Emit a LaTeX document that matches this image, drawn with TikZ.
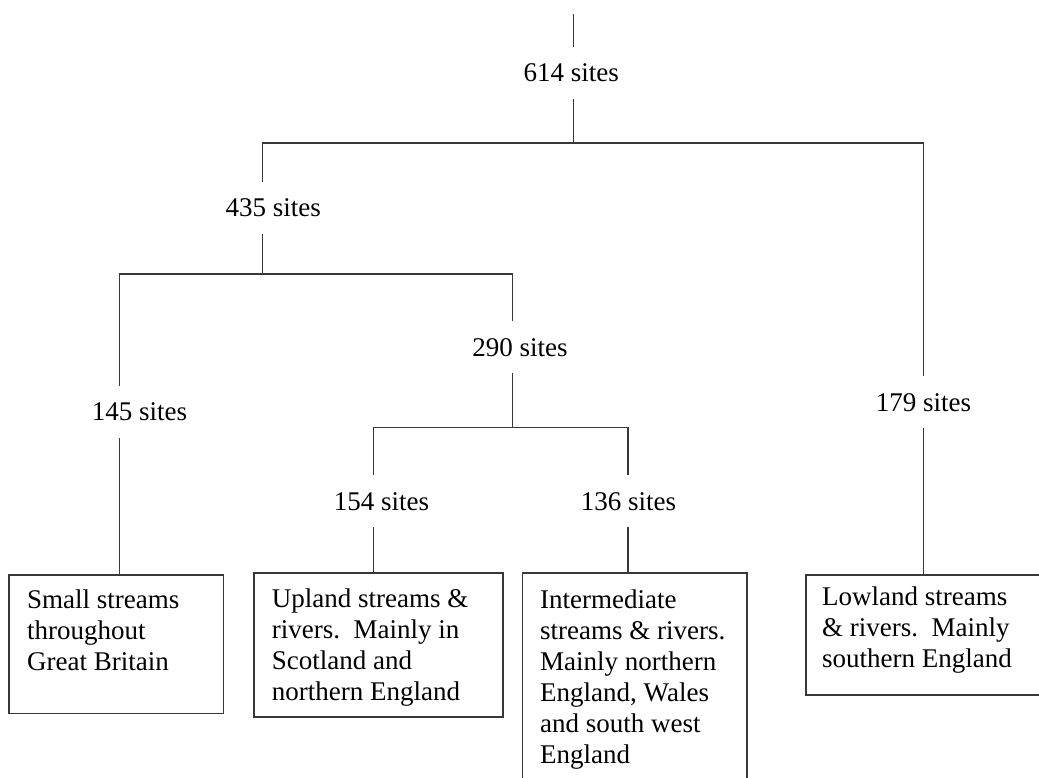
\documentclass[tikz,border=0pt]{standalone}
\usepackage{fontspec}
\setmainfont{Liberation Serif}
\begin{document}
\begin{tikzpicture}[x=1pt,y=-1pt,
  wire/.style={draw=black!78, line width=1.5pt},
  count/.style={font=\fontsize{27}{31}\selectfont, inner xsep=2pt, inner ysep=17pt, anchor=base},
  frame/.style={draw=black!78, line width=1.5pt, inner sep=0pt, anchor=north west},
  desc/.style={font=\fontsize{27}{31}\selectfont, align=left, inner sep=0pt, anchor=north west}]
\useasboundingbox (0,0) rectangle (1039,778);
\clip (0,0) rectangle (1039,778);

% branch points of the tree
\coordinate (top) at (573.7,14);
\coordinate (h1L) at (262.7,143);
\coordinate (h1M) at (573.7,143);
\coordinate (h1R) at (923.3,143);
\coordinate (h2L) at (119.3,274);
\coordinate (h2M) at (262.7,274);
\coordinate (h2R) at (512.3,274);
\coordinate (h3L) at (373.3,427.7);
\coordinate (h3M) at (512.3,427.7);
\coordinate (h3R) at (628,427.7);

% site counts
\node[count] (l614) at (571.3,82) {614 sites};
\node[count] (l435) at (273.3,217) {435 sites};
\node[count] (l290) at (520,356) {290 sites};
\node[count] (l145) at (139.5,420.7) {145 sites};
\node[count] (l179) at (923.5,411) {179 sites};
\node[count] (l154) at (381.5,510) {154 sites};
\node[count] (l136) at (628.5,510) {136 sites};

% end groups (the last two run past the lower and right edges)
\node[frame, minimum width=214.4pt, minimum height=138.7pt] (b1) at (8.3,574) {};
\node[frame, minimum width=248.7pt, minimum height=143.7pt] (b2) at (253.3,572.3) {};
\node[frame, minimum width=224.3pt, minimum height=260pt] (b3) at (521.7,572.3) {};
\node[frame, minimum width=320pt, minimum height=120pt] (b4) at (805,574) {};

\node[desc] (t1) at (27,589.6) {Small streams\\throughout\\Great Britain};
\node[desc] (t2) at (271.7,588.6) {Upland streams \&\\rivers.\ \ Mainly in\\Scotland and\\northern England};
\node[desc] (t3) at (540,589.6) {Intermediate\\streams \& rivers.\\Mainly northern\\England, Wales\\and south west\\England};
\node[desc] (t4) at (822,586.6) {Lowland streams\\\& rivers.\ \ Mainly\\southern England};

% connectors
\draw[wire] (top) -- (l614.north -| top);
\draw[wire] (l614.south -| top) -- (h1M);
\draw[wire] (l435.north -| h1L) -- (h1L) -- (h1R) -- (l179.north -| h1R);
\draw[wire] (l435.south -| h1L) -- (h2M);
\draw[wire] (l145.north -| h2L) -- (h2L) -- (h2R) -- (l290.north -| h2R);
\draw[wire] (l145.south -| h2L) -- (b1.north -| h2L);
\draw[wire] (l290.south -| h2R) -- (h3M);
\draw[wire] (l154.north -| h3L) -- (h3L) -- (h3R) -- (l136.north -| h3R);
\draw[wire] (l154.south -| h3L) -- (b2.north -| h3L);
\draw[wire] (l136.south -| h3R) -- (b3.north -| h3R);
\draw[wire] (l179.south -| h1R) -- (b4.north -| h1R);
\end{tikzpicture}
\end{document}
